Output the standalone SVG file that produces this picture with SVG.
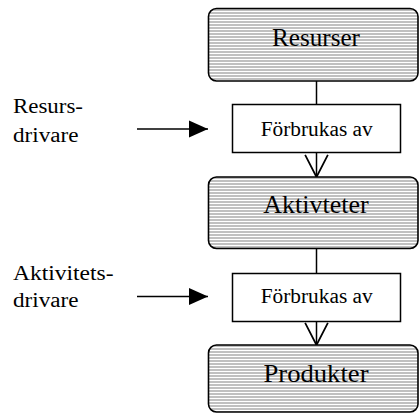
<svg xmlns="http://www.w3.org/2000/svg" width="419" height="414" viewBox="0 0 419 414">
  <defs>
    <!-- horizontal grey hatching used inside the rounded stage boxes -->
    <pattern id="stripes" width="6" height="3" patternUnits="userSpaceOnUse">
      <rect width="6" height="3" fill="#ffffff"/>
      <rect width="6" height="2" fill="#c0c0c0"/>
    </pattern>
    <!-- open V head for the vertical flow -->
    <marker id="vhead" markerUnits="userSpaceOnUse" markerWidth="26" markerHeight="26" viewBox="-2 -12 24 24" refX="20.5" refY="0" orient="auto">
      <path d="M0,-10.5 L20.5,0 L0,10.5" fill="none" stroke="#000" stroke-width="1.6"/>
    </marker>
    <!-- solid head for the driver arrows -->
    <marker id="solid" markerUnits="userSpaceOnUse" markerWidth="20" markerHeight="18" viewBox="0 -9 19 18" refX="19" refY="0" orient="auto">
      <path d="M0,-8.5 L19,0 L0,8.5 Z" fill="#000"/>
    </marker>
  </defs>
  <style>
    .stage { fill: url(#stripes); stroke: #000; stroke-width: 1.6; }
    .step { fill: #fff; stroke: #000; stroke-width: 1.5; }
    text { font-family: 'Liberation Serif', 'DejaVu Serif', serif; fill: #000; }
    .big { font-size: 26px; text-anchor: middle; }
    .mid { font-size: 20px; text-anchor: middle; }
    .side { font-size: 20px; }
    .link { fill: none; stroke: #000; stroke-width: 1.5; }
  </style>

  <g id="connectors">
    <line class="link" x1="316.5" y1="81" x2="316.5" y2="104.5"/>
    <line class="link" x1="316.5" y1="152.5" x2="316.5" y2="177" marker-end="url(#vhead)"/>
    <line class="link" x1="316.5" y1="248.5" x2="316.5" y2="273.5"/>
    <line class="link" x1="316.5" y1="321.5" x2="316.5" y2="345" marker-end="url(#vhead)"/>
    <line class="link" x1="137" y1="129" x2="208" y2="129" marker-end="url(#solid)"/>
    <line class="link" x1="137" y1="296.5" x2="208" y2="296.5" marker-end="url(#solid)"/>
  </g>

  <g id="resurser">
    <rect class="stage" x="208.5" y="8.5" width="209.5" height="72.5" rx="8" ry="8"/>
    <text class="big" font-family="Liberation Serif, serif" x="316" y="46" textLength="88" lengthAdjust="spacingAndGlyphs">Resurser</text>
  </g>

  <g id="forbrukas-1">
    <rect class="step" x="232.5" y="104.5" width="168" height="48"/>
    <text class="mid" font-family="Liberation Serif, serif" x="316.7" y="136" textLength="112" lengthAdjust="spacingAndGlyphs">Förbrukas av</text>
  </g>

  <g id="aktivteter">
    <rect class="stage" x="208.5" y="177" width="209.5" height="71.5" rx="8" ry="8"/>
    <text class="big" font-family="Liberation Serif, serif" x="316" y="212.7" textLength="105.5" lengthAdjust="spacingAndGlyphs">Aktivteter</text>
  </g>

  <g id="forbrukas-2">
    <rect class="step" x="232.5" y="273.5" width="168" height="48"/>
    <text class="mid" font-family="Liberation Serif, serif" x="316.7" y="303.2" textLength="112" lengthAdjust="spacingAndGlyphs">Förbrukas av</text>
  </g>

  <g id="produkter">
    <rect class="stage" x="208.5" y="345" width="209.5" height="67" rx="8" ry="8"/>
    <text class="big" font-family="Liberation Serif, serif" x="316" y="381.7" textLength="105" lengthAdjust="spacingAndGlyphs">Produkter</text>
  </g>

  <g id="resursdrivare">
    <text class="side" font-family="Liberation Serif, serif" x="13" y="113.3" textLength="70" lengthAdjust="spacingAndGlyphs">Resurs-</text>
    <text class="side" font-family="Liberation Serif, serif" x="13" y="141.5" textLength="65.5" lengthAdjust="spacingAndGlyphs">drivare</text>
  </g>

  <g id="aktivitetsdrivare">
    <text class="side" font-family="Liberation Serif, serif" x="13" y="280" textLength="100.5" lengthAdjust="spacingAndGlyphs">Aktivitets-</text>
    <text class="side" font-family="Liberation Serif, serif" x="13" y="306.7" textLength="65.5" lengthAdjust="spacingAndGlyphs">drivare</text>
  </g>
</svg>
